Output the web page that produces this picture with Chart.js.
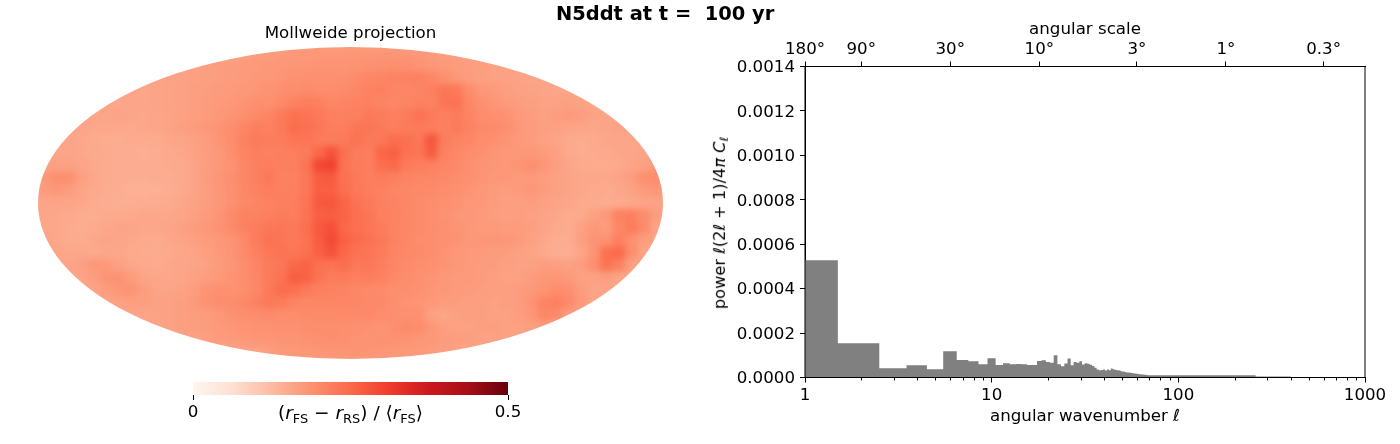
<!DOCTYPE html>
<html>
<head>
<meta charset="utf-8">
<script src="https://cdn.jsdelivr.net/npm/chart.js@4"></script>
<style>
body{margin:0;background:#fff;width:1400px;height:444px;overflow:hidden;position:relative;font-family:"DejaVu Sans",sans-serif;color:#000}
canvas{position:absolute}
.txt{position:absolute;white-space:pre;line-height:1}
sub{font-size:70%;vertical-align:baseline;position:relative;top:.3em}
</style>
</head>
<body>
<canvas id="mapChart" width="700" height="370" style="left:0;top:0"></canvas>
<canvas id="barChart" width="700" height="444" style="left:700px;top:0"></canvas>
<canvas id="cbarChart" width="370" height="70" style="left:170px;top:370px"></canvas>
<div class="txt" style="left:556px;top:4px;font-size:19.44px;font-weight:bold">N5ddt at t =  100 yr</div>
<div class="txt" style="left:350.5px;top:404px;font-size:18.5px;transform:translateX(-50%)">(<i>r</i><sub>FS</sub> − <i>r</i><sub>RS</sub>) / ⟨<i>r</i><sub>FS</sub>⟩</div>
<div class="txt" style="left:720px;top:222.5px;font-size:16.2px;transform:translate(-50%,-50%) rotate(-90deg)">power <i>ℓ</i>(2<i>ℓ</i> + 1)/4<i>π</i> <i>C</i><sub><i>ℓ</i></sub></div>
<script>
// power spectrum, one value per l up to 79, then coarser bands
const powerByEll=[.000528,.000154,.000042,.000055,.000037,.000118,.000079,.000073,.00006,.000087,
  .000056,.000064,.00006,.000061,.00006,.000056,.000056,.000074,.000078,.00007,
  .000066,.0001,.00006,.000051,.000063,.000085,.000055,.00007,.000066,.000073,
  .000058,.000064,.000062,.000057,.000052,.000044,.000036,.000033,.000034,.000036,
  .000032,.000036,.000033,.000041,.000037,.000035,.000033,.000033,.00003,.000027,
  .000027,.000025,.000023,.000022,.000022,.00002,.00002,.000018,.000018,.000017,
  .000016,.000015,.000015,.000014,.000013,.000012,.000012,.000011,.00001,.00001,
  .00001,.00001,.00001,.00001,.00001,.00001,.00001,.00001,.00001]
const bandStarts=[80,260,400,1000]
const bandPowers=[.00001,.000005,.000001]
const yTicks=[0,.0002,.0004,.0006,.0008,.001,.0012,.0014]
const xTicks=[1,10,100,1000]
const xMinorTicks=[2,3,4,5,6,7,8,9,20,30,40,50,60,70,80,90,200,300,400,500,600,700,800,900]
const scaleEll=[1,2,6,18,60,180,600]
const scaleLabels=['180°','90°','30°','10°','3°','1°','0.3°']

const redsStops=['#fff5f0','#fee0d2','#fcbba1','#fc9272','#fb6a4a','#ef3b2c','#cb181d','#a50f15','#67000d']
const cbarRange=[0,.5]

// map values in thousandths of the colorbar unit, rows top to bottom
const mapRows=[
[160,160,160,160,160,160,160,160,160,160,160,160,160,160,160,160,165,170,172,175,178,178,180,180,180,180,182,182,180,180,178,175,172,170,165,160,160,160,160,160,160,160,160,160,160,160,160,160,160,160],
[160,160,160,160,160,160,160,160,160,160,160,160,165,168,170,172,174,176,178,180,182,182,184,184,184,186,188,190,192,190,186,180,176,172,170,168,166,165,162,160,160,160,160,160,160,160,160,160,160,160],
[160,160,160,160,160,160,160,160,160,160,162,164,166,168,170,172,175,178,180,184,188,190,190,190,192,198,205,208,210,212,214,205,190,180,172,168,165,163,162,160,160,160,160,160,160,160,160,160,160,160],
[160,160,160,160,160,160,160,160,158,160,162,165,168,170,172,175,178,182,186,192,196,198,196,195,198,205,212,214,208,204,208,215,232,226,195,180,175,168,165,162,160,158,158,160,160,160,160,160,160,160],
[160,160,160,160,160,160,156,158,158,160,162,165,168,172,175,178,185,192,190,200,212,218,215,205,210,212,214,208,204,208,212,212,232,236,205,190,182,176,170,166,162,162,165,162,160,160,160,160,160,160],
[160,160,160,160,158,158,160,158,156,158,160,164,168,172,178,185,192,198,208,222,238,235,225,215,214,216,226,222,215,222,238,225,215,222,210,195,190,188,176,170,165,170,175,170,162,160,160,160,160,160],
[160,160,160,158,156,156,154,152,155,158,162,168,172,178,185,194,208,218,214,225,246,240,230,218,218,232,232,225,218,222,225,220,214,225,212,200,198,192,178,172,168,165,160,158,156,160,162,160,160,160],
[160,160,158,156,150,148,148,150,150,150,155,158,164,172,182,195,212,222,220,220,232,232,225,222,225,236,225,228,245,240,230,276,222,210,205,195,190,185,175,172,165,160,152,148,152,155,158,158,160,160],
[160,158,158,156,152,150,148,146,144,148,152,155,162,170,178,192,208,218,212,216,218,224,252,282,240,222,218,255,262,238,232,268,212,205,195,190,182,180,178,178,175,165,152,148,150,152,155,158,160,160],
[162,165,165,158,154,150,148,146,146,148,150,152,160,170,178,188,204,216,218,216,216,234,296,305,235,222,218,242,250,225,218,214,208,202,192,185,182,180,185,192,180,168,158,152,150,150,152,158,165,175],
[178,192,190,168,155,150,148,146,145,146,148,152,160,172,182,192,204,216,226,214,214,230,268,270,238,226,218,222,216,210,206,204,200,196,190,184,180,178,176,175,170,165,160,155,155,155,160,170,192,198],
[172,178,172,160,152,148,145,140,140,142,145,152,160,170,180,190,204,212,218,214,216,230,264,264,242,228,218,214,208,204,200,198,196,190,184,178,174,170,175,178,172,165,160,155,152,150,155,162,175,180],
[160,160,158,155,150,146,145,145,146,148,150,155,162,170,180,190,202,208,212,216,218,234,272,274,256,236,226,214,210,204,198,196,190,186,180,178,172,168,168,170,165,160,158,152,150,148,150,155,160,162],
[158,156,152,148,148,150,150,152,155,155,155,158,166,174,184,198,212,212,216,222,218,236,264,266,258,240,232,216,212,204,198,194,188,182,178,175,170,168,170,165,162,155,150,152,165,178,212,215,195,170],
[155,155,150,148,150,155,160,158,155,155,158,165,172,178,186,198,212,220,230,232,226,240,272,285,252,240,232,222,210,204,198,196,190,184,180,176,175,172,172,168,160,152,150,165,178,172,205,222,198,160],
[160,155,150,150,155,160,158,155,152,150,155,160,166,172,178,184,200,222,238,232,226,236,268,292,262,248,238,226,212,204,196,194,190,186,180,178,182,180,175,165,155,148,148,168,185,188,215,190,170,160],
[160,160,156,155,152,155,155,152,150,150,152,155,160,168,176,184,198,214,228,234,230,240,262,282,252,236,232,222,208,202,198,194,186,180,176,175,172,170,165,160,152,145,145,158,185,240,250,195,160,160],
[160,160,160,166,178,175,165,155,152,150,155,158,160,165,174,182,194,208,224,232,252,258,240,234,244,228,230,218,206,198,194,190,184,180,176,172,172,168,165,165,170,168,165,170,192,235,215,165,160,160],
[160,160,160,160,170,185,188,172,160,155,155,158,165,170,175,185,194,207,224,236,266,260,234,222,222,216,218,214,202,196,190,184,178,176,175,172,168,165,165,172,180,182,175,165,165,170,160,160,160,160],
[160,160,160,160,160,172,182,184,170,160,160,162,170,184,190,188,192,205,225,245,240,225,215,212,210,205,200,198,192,192,190,182,178,175,172,170,168,168,172,178,185,195,192,172,160,160,160,160,160,160],
[160,160,160,160,160,160,165,168,168,165,165,168,175,188,194,196,203,214,226,222,210,205,205,208,205,205,202,200,192,186,182,178,172,170,168,168,165,168,172,185,208,215,200,175,162,160,160,160,160,160],
[160,160,160,160,160,160,160,160,160,162,165,168,170,172,178,188,192,195,198,195,195,198,198,198,200,198,200,195,192,190,190,165,158,165,168,168,165,165,170,180,205,200,170,160,160,160,160,160,160,160],
[160,160,160,160,160,160,160,160,160,160,165,168,170,172,175,180,185,188,188,190,190,192,195,195,192,190,188,185,192,198,195,180,168,165,165,168,168,165,165,168,170,160,160,160,160,160,160,160,160,160],
[160,160,160,160,160,160,160,160,160,160,160,160,162,168,172,175,178,182,182,185,185,188,190,192,190,186,186,188,188,185,182,178,172,170,168,165,165,165,160,160,160,160,160,160,160,160,160,160,160,160],
[160,160,160,160,160,160,160,160,160,160,160,160,160,160,160,160,160,160,170,175,178,180,182,182,184,186,184,180,178,176,175,172,170,160,160,160,160,160,160,160,160,160,160,160,160,160,160,160,160,160]
]
const mapFill=160

function hex2rgb(h){return [1,3,5].map(i=>parseInt(h.substr(i,2),16))}
function redsColor(v){
  let t=Math.max(0,Math.min(1,v/cbarRange[1]))*(redsStops.length-1)
  let i=Math.min(Math.floor(t),redsStops.length-2)
  let a=hex2rgb(redsStops[i]),b=hex2rgb(redsStops[i+1]),f=t-i
  return 'rgb('+a.map((c,k)=>Math.round(c+(b[k]-c)*f)).join(',')+')'
}

const fontSize=16.67
Chart.defaults.font.family='"DejaVu Sans"'
Chart.defaults.font.size=fontSize
Chart.defaults.color='#000'
Chart.defaults.animation=false
Chart.defaults.devicePixelRatio=1
Chart.defaults.plugins.legend.display=false
Chart.defaults.plugins.tooltip.enabled=false

// ---- map ----
let nRows=mapRows.length,nCols=mapRows[0].length
let mapPoints=[],mapColors=[]
mapRows.forEach((row,r)=>row.forEach((v,c)=>{
  mapPoints.push({x:-1+(c+.5)*2/nCols,y:1-(r+.5)*2/nRows})
  mapColors.push(redsColor(v/1000))
}))

// smooth the cells and cut them to the ellipse
const ellipsePlugin={
  id:'ellipse',
  afterDatasetsDraw(chart){
    let a=chart.chartArea,ctx=chart.ctx,w=a.right-a.left,h=a.bottom-a.top
    let off=document.createElement('canvas')
    off.width=chart.canvas.width
    off.height=chart.canvas.height
    let o=off.getContext('2d')
    o.drawImage(chart.canvas,a.left-1,a.top-1,w+2,h+2,a.left-1,a.top-1,w+2,h+2)
    o.globalCompositeOperation='destination-over'
    o.fillStyle=redsColor(mapFill/1000)
    o.fillRect(0,0,off.width,off.height)
    ctx.save()
    ctx.clearRect(a.left-2,a.top-2,w+4,h+4)
    ctx.beginPath()
    ctx.ellipse((a.left+a.right)/2,(a.top+a.bottom)/2,w/2,h/2,0,0,Math.PI*2)
    ctx.clip()
    ctx.filter='blur(3.2px)'
    ctx.drawImage(off,0,0)
    ctx.restore()
  }
}

new Chart(document.getElementById('mapChart'),{
  type:'scatter',
  data:{datasets:[{
    data:mapPoints,
    pointStyle:'rect',
    backgroundColor:mapColors,
    borderWidth:0,
    clip:false,
    pointRadius:c=>{
      let a=c.chart.chartArea
      return a?(a.right-a.left)/nCols/2*Math.SQRT2+.5:1
    }
  }]},
  options:{
    responsive:false,
    layout:{padding:{left:38,right:37,bottom:11,top:0}},
    plugins:{title:{display:true,text:'Mollweide projection',font:{size:fontSize,weight:'normal'},padding:{top:23.5,bottom:3.5}}},
    scales:{
      x:{type:'linear',min:-1,max:1,display:false},
      y:{type:'linear',min:-1,max:1,display:false}
    }
  },
  plugins:[ellipsePlugin]
})

// ---- power spectrum ----
let stepPoints=powerByEll.map((p,i)=>({x:i+.5,y:p}))
bandPowers.forEach((p,i)=>stepPoints.push({x:bandStarts[i]-.5,y:p}))
stepPoints.push({x:bandStarts[bandStarts.length-1],y:0})

const framePlugin={
  id:'frame',
  afterDraw(chart){
    let a=chart.chartArea,ctx=chart.ctx,sx=chart.scales.x
    ctx.save()
    ctx.strokeStyle='#000'
    ctx.lineWidth=1
    ctx.strokeRect(a.left,a.top,a.right-a.left,a.bottom-a.top)
    ctx.beginPath()
    xMinorTicks.forEach(v=>{
      let px=Math.round(sx.getPixelForValue(v))+.5
      ctx.moveTo(px,a.bottom)
      ctx.lineTo(px,a.bottom+3)
    })
    ctx.stroke()
    ctx.restore()
  }
}

const axisGrid={drawOnChartArea:false,tickLength:5,tickColor:'#000',tickWidth:1}
new Chart(document.getElementById('barChart'),{
  type:'line',
  data:{datasets:[{
    data:stepPoints,
    xAxisID:'x',
    yAxisID:'y',
    stepped:'before',
    fill:'origin',
    backgroundColor:'#808080',
    borderWidth:0,
    pointRadius:0
  }]},
  options:{
    responsive:false,
    layout:{padding:{right:35,left:0,top:0,bottom:0}},
    scales:{
      x:{
        type:'logarithmic',position:'bottom',min:1,max:1000,
        grid:axisGrid,border:{color:'#000'},
        title:{display:true,text:'angular wavenumber ℓ',font:{size:fontSize},padding:{top:0,bottom:17}},
        ticks:{autoSkip:false,maxRotation:0,padding:3,callback:v=>String(v)},
        afterBuildTicks:s=>{s.ticks=xTicks.map(v=>({value:v,major:true}))},
        afterFit:s=>{s.height=66.5}
      },
      x2:{
        type:'logarithmic',position:'top',min:1,max:1000,
        grid:axisGrid,border:{color:'#000'},
        title:{display:true,text:'angular scale',font:{size:fontSize},padding:{top:20,bottom:0}},
        ticks:{autoSkip:false,maxRotation:0,padding:2,callback:(v,i)=>scaleLabels[i]},
        afterBuildTicks:s=>{s.ticks=scaleEll.map(v=>({value:v,major:true}))},
        afterFit:s=>{s.height=66.5}
      },
      y:{
        type:'linear',min:0,max:yTicks[yTicks.length-1],
        grid:axisGrid,border:{color:'#000'},
        ticks:{padding:5,labelOffset:1.5,callback:v=>v.toFixed(4)},
        afterBuildTicks:s=>{s.ticks=yTicks.map(v=>({value:v}))},
        afterFit:s=>{s.width=105}
      }
    }
  },
  plugins:[framePlugin]
})

// ---- colorbar ----
new Chart(document.getElementById('cbarChart'),{
  type:'bar',
  data:{labels:[''],datasets:[{
    data:[cbarRange],
    barPercentage:1,
    categoryPercentage:1,
    backgroundColor:c=>{
      let a=c.chart.chartArea
      if(!a)return '#fff'
      let g=c.chart.ctx.createLinearGradient(a.left,0,a.right,0)
      redsStops.forEach((s,i)=>g.addColorStop(i/(redsStops.length-1),s))
      return g
    }
  }]},
  options:{
    indexAxis:'y',
    responsive:false,
    layout:{padding:{left:23,right:32,top:12,bottom:0}},
    scales:{
      x:{
        type:'linear',position:'bottom',min:cbarRange[0],max:cbarRange[1],
        grid:{drawOnChartArea:false,tickLength:5,tickColor:'#000'},
        border:{display:false},
        ticks:{padding:3,autoSkip:false,maxRotation:0,callback:v=>String(v)},
        afterBuildTicks:s=>{s.ticks=cbarRange.map(v=>({value:v}))},
        afterFit:s=>{s.height=45}
      },
      y:{display:false}
    }
  }
})
</script>
</body>
</html>
